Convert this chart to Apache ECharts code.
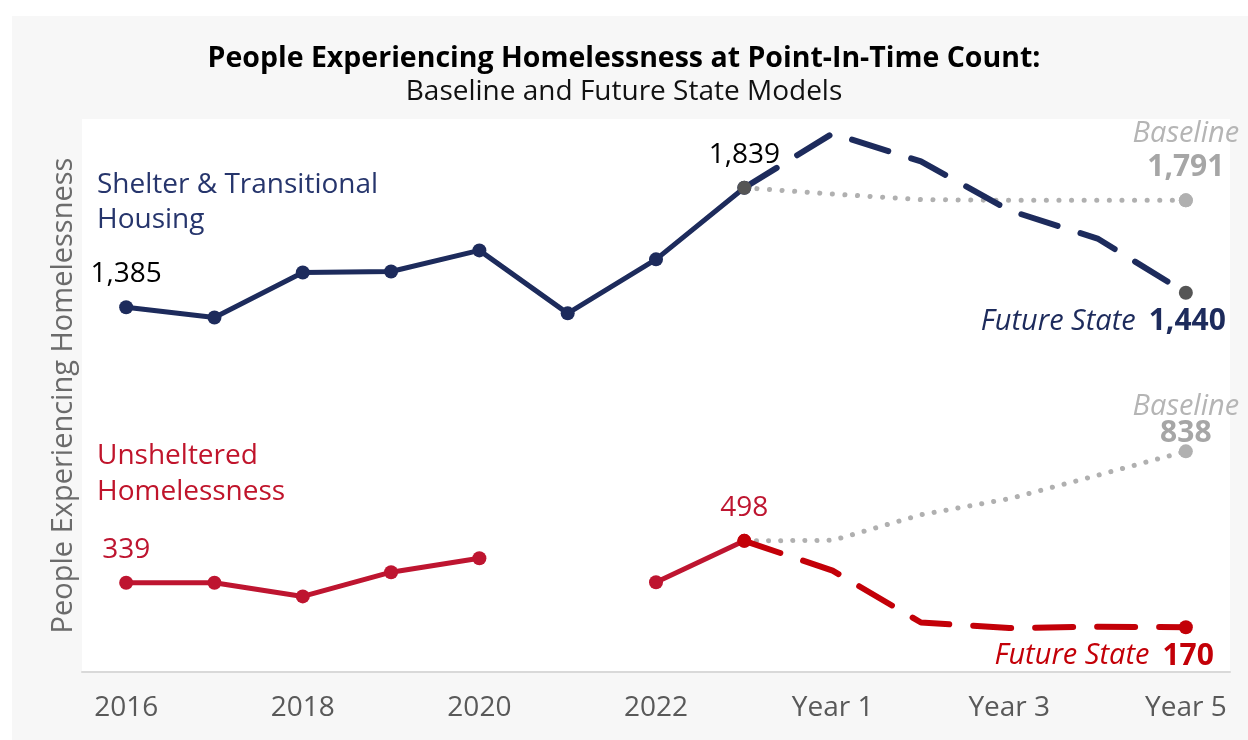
<!DOCTYPE html>
<html>
<head>
<meta charset="utf-8">
<script src="https://cdn.jsdelivr.net/npm/echarts@6/dist/echarts.min.js"></script>
<style>
html,body{margin:0;padding:0;background:#fff;}
#chart{width:1248px;height:740px;}
</style>
</head>
<body>
<div id="chart"></div>
<script>
// ---- data ----
var categories = ['2016','2017','2018','2019','2020','2021','2022','2023','Year 1','Year 2','Year 3','Year 4','Year 5'];
var shelterActual   = [1385, 1346, 1517, 1521, 1601, 1362, 1567, 1839, null, null, null, null, null];
var shelterBaseline = [null, null, null, null, null, null, null, 1839, 1815, 1794, 1791, 1791, 1791];
var shelterFuture   = [null, null, null, null, null, null, null, 1839, 2045, 1939, 1753, 1646, 1440];
var unshActual      = [339, 339, 287, 379, 432, null, 341, 498, null, null, null, null, null];
var unshBaseline    = [null, null, null, null, null, null, null, 498, 500, 597, 658, 747, 838];
var unshFuture      = [null, null, null, null, null, null, null, 498, 385, 188, 167, 172, 170];

var FONT = 'Open Sans';
var NAVY = '#1d2b5c';
var NAVY_TXT = '#26356c';
var RED = '#be1530';
var RED2 = '#c30008';
var GRAY = '#b0b0b0';
var DARK = '#555555';

function fmt(v){ return v.toLocaleString('en-US'); }

function withLabels(values, labelMap){
  return values.map(function(v, i){
    if (v !== null && labelMap[i]) return { value: v, label: labelMap[i] };
    return v;
  });
}
function endSize(size){
  return function(val, params){ return (params.dataIndex === 7 || params.dataIndex === 12) ? size : 0; };
}
function lastSize(size){
  return function(val, params){ return params.dataIndex === 12 ? size : 0; };
}
function valLabel(v, color){
  return { show: true, position: 'top', distance: 12, formatter: fmt(v), color: color, fontFamily: FONT, fontSize: 28 };
}
function baselineLabel(v, dist, lh1, lh2){
  return {
    show: true, position: 'top', distance: dist,
    formatter: '{i|Baseline}\n{b|' + fmt(v) + '}',
    rich: {
      i: { fontFamily: FONT, fontStyle: 'italic', fontSize: 29, color: '#b5b5b5', lineHeight: lh1, align: 'center' },
      b: { fontFamily: FONT, fontWeight: 'bold', fontSize: 30, color: '#a6a6a6', lineHeight: lh2, align: 'center' }
    }
  };
}
function futureLabel(v, color, dx){
  return {
    show: true, position: 'bottom', distance: 6, align: 'right', offset: [dx, 0],
    formatter: '{i|Future State}{b|' + fmt(v) + '}',
    rich: {
      i: { fontFamily: FONT, fontStyle: 'italic', fontSize: 29, color: color, lineHeight: 32 },
      b: { fontFamily: FONT, fontWeight: 'bold', fontSize: 30, color: color, lineHeight: 32, padding: [0, 0, 0, 13] }
    }
  };
}

var chart = echarts.init(document.getElementById('chart'), null, { renderer: 'canvas' });

var option = {
  backgroundColor: '#ffffff',
  animation: false,
  graphic: [
    { type: 'rect', z: -10, silent: true, shape: { x: 12, y: 16, width: 1236, height: 724 }, style: { fill: '#f7f7f7' } },
    { type: 'text', left: 97, top: 168, z: 10, style: { text: 'Shelter & Transitional\nHousing', fill: NAVY_TXT, font: '28px "Open Sans"', lineHeight: 35 } },
    { type: 'text', left: 97, top: 438, z: 10, style: { text: 'Unsheltered\nHomelessness', fill: '#c0142b', font: '28px "Open Sans"', lineHeight: 36 } }
  ],
  title: {
    text: 'People Experiencing Homelessness at Point-In-Time Count:',
    subtext: 'Baseline and Future State Models',
    left: 'center', top: 39, itemGap: 5,
    textStyle: { fontFamily: FONT, fontWeight: 'bold', fontSize: 28.5, color: '#000' },
    subtextStyle: { fontFamily: FONT, fontSize: 28, color: '#111' }
  },
  grid: { left: 82, right: 18, top: 119, bottom: 68, show: true, backgroundColor: '#ffffff', borderWidth: 0, containLabel: false },
  xAxis: {
    type: 'category', data: categories, boundaryGap: true,
    axisLine: { lineStyle: { color: '#d9d9d9', width: 2 } },
    axisTick: { show: false },
    axisLabel: { interval: 1, color: '#595959', fontFamily: FONT, fontSize: 28, margin: 22 }
  },
  yAxis: {
    type: 'value', min: 0, max: 2100,
    name: 'People Experiencing Homelessness', nameLocation: 'middle', nameGap: 4, nameRotate: 90,
    nameTextStyle: { color: '#6b6b6b', fontFamily: FONT, fontSize: 29 },
    axisLine: { show: false }, axisTick: { show: false }, axisLabel: { show: false }, splitLine: { show: false }
  },
  series: [
    {
      type: 'line', data: shelterBaseline, z: 3, symbol: 'circle', symbolSize: lastSize(14),
      itemStyle: { color: GRAY }, lineStyle: { color: GRAY, width: 5, type: [0.1, 12.5], cap: 'round' },
      label: { show: false }
    },
    {
      type: 'line', data: withLabels(shelterActual, { 0: valLabel(1385, '#000'), 7: valLabel(1839, '#000') }),
      z: 4, symbol: 'circle', symbolSize: 14, itemStyle: { color: NAVY }, lineStyle: { color: NAVY, width: 5 }
    },
    {
      type: 'line', data: withLabels(shelterFuture, { 12: futureLabel(1440, NAVY, 40) }),
      z: 5, symbol: 'circle', symbolSize: endSize(14), itemStyle: { color: DARK },
      lineStyle: { color: NAVY, width: 6, type: [38, 24], cap: 'round' }
    },
    {
      type: 'line', data: withLabels(shelterBaseline, { 12: baselineLabel(1791, 9, 33, 34) }),
      z: 6, symbol: 'circle', symbolSize: lastSize(14), itemStyle: { color: GRAY }, lineStyle: { width: 0, opacity: 0 }
    },
    {
      type: 'line', data: withLabels(unshBaseline, { 12: baselineLabel(838, -3, 26, 28) }), z: 3, symbol: 'circle', symbolSize: lastSize(14),
      itemStyle: { color: GRAY }, lineStyle: { color: GRAY, width: 5, type: [0.1, 12], cap: 'round' }
    },
    {
      type: 'line', data: withLabels(unshActual, { 0: valLabel(339, RED), 7: valLabel(498, RED) }),
      z: 4, symbol: 'circle', symbolSize: 14, itemStyle: { color: RED }, lineStyle: { color: RED, width: 5 }
    },
    {
      type: 'line', data: withLabels(unshFuture, { 12: futureLabel(170, RED2, 28) }),
      z: 5, symbol: 'circle', symbolSize: endSize(14), itemStyle: { color: RED2 },
      lineStyle: { color: RED2, width: 6, type: [38, 24], cap: 'round' }
    }
  ]
};
chart.setOption(option);
</script>
</body>
</html>
